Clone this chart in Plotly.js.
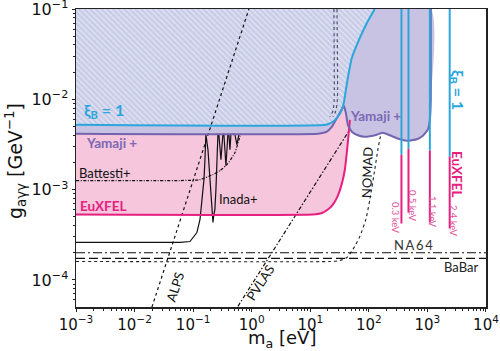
<!DOCTYPE html>
<html><head><meta charset="utf-8">
<script src="https://cdn.plot.ly/plotly-3.0.1.min.js"></script>
<style>html,body{margin:0;padding:0;background:#fff}#chart{width:500px;height:351px}</style>
</head><body><div id="chart"></div>
<script>
// ---- data ----
const euxfelX = [1e-3, 11.1, 15.8, 19.95, 24.3, 29.6, 34.6, 38.9, 42.2, 45.6, 47.4];
const euxfelY = [5.3e-4, 5.3e-4, 5.5e-4, 6.01e-4, 6.82e-4, 8.59e-4, 1.165e-3, 1.66e-3, 2.63e-3, 4.38e-3, 5.93e-3];

const yamajiX = [1e-3, 13.5, 19.2, 23.4, 27.4, 32.0, 37.4, 40.5, 43.8, 51.3, 64.9, 85.5, 137, 173, 228, 300, 445, 659, 835, 1016, 1099, 1143, 1143];
const yamajiY = [4.16e-3, 4.16e-3, 4.38e-3, 4.97e-3, 5.93e-3, 7.09e-3, 8.48e-3, 7.09e-3, 5.22e-3, 4.38e-3, 4.0e-3, 3.85e-3, 4.06e-3, 4.27e-3, 4.0e-3, 3.71e-3, 3.48e-3, 3.61e-3, 3.95e-3, 4.61e-3, 5.93e-3, 9.86e-3, 0.1];

const xiX = [1e-3, 18.5, 24.3, 29.6, 34.6, 37.4, 40.5, 43.8, 51.3, 70.2, 92.5, 126];
const xiY = [5.22e-3, 5.22e-3, 5.64e-3, 6.41e-3, 7.66e-3, 9.14e-3, 1.27e-2, 1.73e-2, 2.88e-2, 4.79e-2, 7.0e-2, 0.1];

const inadaX = [1e-3, 0.0596, 0.0881, 0.116, 0.131, 0.141, 0.153, 0.159, 0.165, 0.179, 0.194, 0.209, 0.218, 0.226, 0.235, 0.245, 0.255, 0.265, 0.275, 0.298, 0.322, 0.335, 0.363, 0.392, 0.408, 0.425, 0.442, 0.516, 0.558, 0.605];
const inadaY = [2.6e-4, 2.6e-4, 2.66e-4, 3.35e-4, 4.67e-4, 7.18e-4, 1.29e-3, 2.14e-3, 4.1e-3, 2.77e-3, 1.135e-3, 5.3e-4, 4.32e-4, 5.3e-4, 6.01e-4, 1.0e-3, 2.14e-3, 4.1e-3, 4.1e-3, 2.14e-3, 4.1e-3, 4.1e-3, 1.84e-3, 4.1e-3, 4.1e-3, 2.77e-3, 4.1e-3, 4.1e-3, 3.14e-3, 4.1e-3];

const battestiX = [1e-3, 0.0596, 0.131, 0.218, 0.286, 0.377, 0.516, 0.629, 0.655];
const battestiY = [1.26e-3, 1.26e-3, 1.29e-3, 1.47e-3, 1.62e-3, 1.89e-3, 2.56e-3, 3.88e-3, 4.16e-3];

const alpsX = [0.0198, 0.896];
const alpsY = [5e-5, 0.1];

const pvlasX = [0.582, 46];
const pvlasY = [5.1e-5, 4.5e-3];

const nomadX = [1e-3, 21.6, 32.0, 42.2, 53.4, 70.2, 88.9, 104, 126, 142.5, 160];
const nomadY = [1.6e-4, 1.6e-4, 1.64e-4, 1.77e-4, 2.17e-4, 3.03e-4, 4.67e-4, 7.76e-4, 1.66e-3, 2.77e-3, 4.1e-3];

const nomadUpAX = [25.3, 25.6, 24.5, 21.6];
const nomadUpBX = [28.6, 29.0, 27.5, 24.5];
const nomadUpY  = [0.1, 1e-2, 7.5e-3, 6.4e-3];

const na64X = [1e-3, 1e4];
const na64Y = [2.0e-4, 2.0e-4];
const babarX = [1e-3, 1e4];
const babarY = [1.73e-4, 1.73e-4];

const lineMass   = [360, 475, 1100, 2400];
const lineTop    = [0.1, 0.1, 0.1, 0.1];
const lineSplit  = [2.44e-3, 2.84e-3, 2.70e-3, 2.32e-3];
const lineBottom = [4.21e-4, 5.57e-4, 4.32e-4, 3.71e-4];
const lineLabels = ['0.3 keV', '0.5 keV', '1.1 keV', '2.4 keV'];

const xTickVals = [1e-3, 1e-2, 1e-1, 1, 10, 100, 1000, 10000];
const xTickText = ['10<sup>−3</sup>', '10<sup>−2</sup>', '10<sup>−1</sup>', '10<sup>0</sup>', '10<sup>1</sup>', '10<sup>2</sup>', '10<sup>3</sup>', '10<sup>4</sup>'];
const yTickVals = [1e-4, 1e-3, 1e-2, 1e-1];
const yTickText = ['10<sup>−4</sup>', '10<sup>−3</sup>', '10<sup>−2</sup>', '10<sup>−1</sup>'];

// ---- styles ----
const PINK = '#f6c6dc', MAG = '#e5207f', LAV = '#c8c3e3', PUR = '#7464b0', CYAN = '#2ba6dc';
const TXT = 'Lato, "Open Sans", sans-serif';

function segs(xs, y1, y2) {
  const X = [], Y = [];
  xs.forEach((m, i) => { X.push(m, m, null); Y.push(y1[i], y2[i], null); });
  return {X, Y};
}
const cyanSeg = segs(lineMass, lineTop, lineSplit);
const magSeg = segs(lineMass, lineSplit, lineBottom);

const traces = [
  {x: euxfelX.concat([euxfelX[euxfelX.length-1], 1e-3]), y: euxfelY.concat([0.1, 0.1]), mode: 'lines', fill: 'toself', fillcolor: PINK, line: {width: 0, shape: 'spline', smoothing: 0.4}},
  {x: yamajiX.concat([1e-3]), y: yamajiY.concat([0.1]), mode: 'lines', fill: 'toself', fillcolor: LAV, line: {width: 0, shape: 'spline', smoothing: 0.4}},
  {x: xiX.concat([1e-3]), y: xiY.concat([0.1]), mode: 'lines', fill: 'toself', fillcolor: '#c9cce7', line: {width: 0, shape: 'spline', smoothing: 0.4},
   fillpattern: {shape: '\\', bgcolor: '#c9cce7', fgcolor: '#e4e6f4', size: 4, solidity: 0.3}},
  {x: inadaX, y: inadaY, mode: 'lines', line: {color: '#111', width: 1.2}},
  {x: battestiX, y: battestiY, mode: 'lines', line: {color: '#111', width: 1.2, dash: '3px,1.5px,1px,1.5px', shape: 'spline', smoothing: 0.6}},
  {x: alpsX, y: alpsY, mode: 'lines', line: {color: '#111', width: 1.2, dash: 'dot'}},
  {x: pvlasX, y: pvlasY, mode: 'lines', line: {color: '#111', width: 1.2, dash: '4px,2px,1.5px,2px'}},
  {x: nomadX, y: nomadY, mode: 'lines', line: {color: '#222', width: 1.1, dash: 'dot', shape: 'spline', smoothing: 0.5}},
  {x: nomadUpAX, y: nomadUpY, mode: 'lines', line: {color: '#4a4468', width: 1.1, dash: 'dot', shape: 'spline', smoothing: 0.5}},
  {x: nomadUpBX, y: nomadUpY, mode: 'lines', line: {color: '#4a4468', width: 1.1, dash: 'dot', shape: 'spline', smoothing: 0.5}},
  {x: na64X, y: na64Y, mode: 'lines', line: {color: '#111', width: 1.2, dash: '9px,3px,2px,3px'}},
  {x: babarX, y: babarY, mode: 'lines', line: {color: '#111', width: 1.2, dash: '9px,4px'}},
  {x: euxfelX, y: euxfelY, mode: 'lines', line: {color: MAG, width: 2, shape: 'spline', smoothing: 0.4}},
  {x: yamajiX, y: yamajiY, mode: 'lines', line: {color: PUR, width: 2, shape: 'spline', smoothing: 0.4}},
  {x: xiX, y: xiY, mode: 'lines', line: {color: CYAN, width: 2, shape: 'spline', smoothing: 0.4}},
  {x: cyanSeg.X, y: cyanSeg.Y, mode: 'lines', line: {color: CYAN, width: 2}},
  {x: magSeg.X, y: magSeg.Y, mode: 'lines', line: {color: MAG, width: 2}}
];
traces.forEach(t => { t.showlegend = false; t.hoverinfo = 'skip'; });

const P = (px) => (px - 76) / 410;
const Q = (py) => (307 - py) / 298;
function ann(text, px, py, o) {
  return Object.assign({text, x: P(px), y: Q(py), xref: 'paper', yref: 'paper', showarrow: false,
    xanchor: 'center', yanchor: 'middle', font: {family: TXT, size: 13, color: '#111'}}, o || {});
}
const annotations = [
  ann('<b>ξ<sub>B</sub> = 1</b>', 82, 110, {xanchor: 'left', font: {family: TXT, size: 16, color: CYAN}}),
  ann('<b>Yamaji +</b>', 84, 143, {xanchor: 'left', font: {family: TXT, size: 13.5, color: '#7b68b5'}}),
  ann('Battesti+', 77, 173, {xanchor: 'left', font: {family: TXT, size: 13, color: '#111'}}),
  ann('<b>EuXFEL</b>', 78, 206, {xanchor: 'left', font: {family: TXT, size: 13.5, color: MAG}}),
  ann('Inada+', 217, 199, {xanchor: 'left', font: {family: TXT, size: 13, color: '#111'}}),
  ann('ALPS', 175, 287, {textangle: -72}),
  ann('PVLAS', 260, 283, {textangle: -57}),
  ann('NOMAD', 367, 173, {textangle: -88}),
  ann('<b>Yamaji +</b>', 375, 116, {font: {family: TXT, size: 13.5, color: '#7b68b5'}}),
  ann('<b>ξ<sub>B</sub> = 1</b>', 458, 90, {textangle: 90, font: {family: TXT, size: 16, color: CYAN}}),
  ann('<b>EuXFEL</b>', 457, 174, {textangle: 90, font: {family: TXT, size: 13.5, color: MAG}}),
  ann(lineLabels[0], 395, 218, {textangle: 90, font: {family: TXT, size: 9.5, color: '#e0559a'}}),
  ann(lineLabels[1], 413, 206, {textangle: 90, font: {family: TXT, size: 9.5, color: '#e0559a'}}),
  ann(lineLabels[2], 433, 212, {textangle: 90, font: {family: TXT, size: 9.5, color: '#e0559a'}}),
  ann(lineLabels[3], 454, 221, {textangle: 90, font: {family: TXT, size: 9.5, color: '#e0559a'}}),
  ann('N\u2009A\u20096\u20094', 413, 245, {font: {family: TXT, size: 13, color: '#333'}}),
  ann('BaBar', 461, 267, {font: {family: TXT, size: 13, color: '#222'}}),
  ann('m<sub>a</sub> [eV]', 282, 339, {font: {family: 'DejaVu Sans', size: 18, color: '#111'}}),
  ann('g<sub>aγγ</sub> [GeV<sup>−1</sup>]', 16, 161, {textangle: -90, font: {family: 'DejaVu Sans', size: 19, color: '#111'}})
];

const axisCommon = {
  type: 'log', tickmode: 'array',
  ticks: 'outside', ticklen: 3, tickwidth: 1, tickcolor: '#222',
  minor: {ticks: 'outside', ticklen: 2, tickcolor: '#222', dtick: 'D1', showgrid: false},
  showline: true, linecolor: '#222', linewidth: 1.5, mirror: true,
  showgrid: false, zeroline: false, automargin: false, ticklabeloverflow: 'allow',
  tickfont: {family: 'DejaVu Sans', size: 16, color: '#111'}
};

const layout = {
  width: 500, height: 351,
  margin: {l: 76, r: 14, t: 9, b: 44},
  paper_bgcolor: '#fff', plot_bgcolor: '#fff',
  xaxis: Object.assign({}, axisCommon, {range: [-3, 4.0001], tickvals: xTickVals, ticktext: xTickText,
    tickfont: {family: 'DejaVu Sans', size: 15, color: '#111'}}),
  yaxis: Object.assign({}, axisCommon, {range: [-4.3, -0.9999], tickvals: yTickVals, ticktext: yTickText}),
  annotations: annotations
};

Plotly.newPlot('chart', traces, layout, {staticPlot: true, displayModeBar: false});
</script>
</body></html>
